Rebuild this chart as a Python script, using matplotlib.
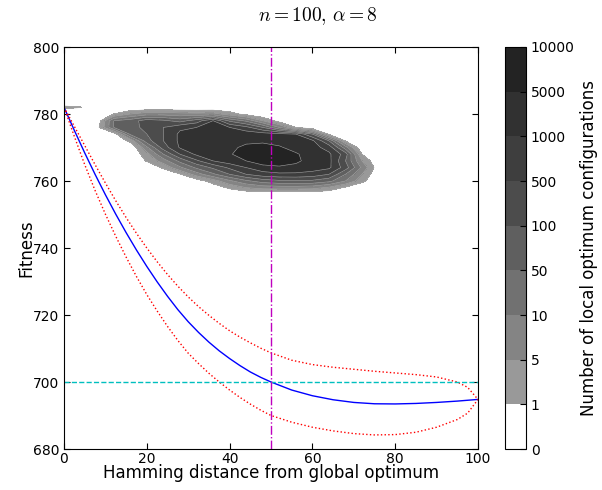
import numpy as np
import matplotlib
matplotlib.use("Agg")
import matplotlib.pyplot as plt

plt.rcParams['mathtext.fontset'] = 'cm'
plt.rcParams['font.family'] = ['DejaVu Sans']

# ---- curves ----
hamming = [0, 2.5, 5, 7.5, 10, 12.5, 15, 17.5, 20, 22.5, 25, 27.5, 30, 32.5, 35, 37.5, 40, 42.5, 45, 47.5,
           50, 55, 60, 65, 70, 75, 80, 85, 90, 95, 97.5, 100]
fitness_mean = [782, 775.1, 768.4, 762.0, 755.9, 750.1, 744.6, 739.4, 734.5, 729.9, 725.6, 721.6, 718.0,
                714.8, 711.9, 709.3, 707.0, 704.9, 703.0, 701.4,
                700.0, 697.6, 695.9, 694.7, 693.9, 693.5, 693.45, 693.6, 693.9, 694.3, 694.55, 694.8]
fitness_upper = [782, 776.3, 770.6, 764.9, 759.4, 754.1, 749.1, 744.4, 740.0, 735.9, 732.1, 728.6, 725.4,
                 722.5, 719.9, 717.5, 715.3, 713.4, 711.7, 710.1,
                 708.7, 706.5, 705.2, 704.4, 703.8, 703.2, 702.7, 702.2, 701.5, 700.0, 698.4, 694.8]
fitness_lower = [782, 773.3, 764.9, 757.2, 750.1, 743.5, 737.3, 731.5, 726.1, 721.2, 716.6, 712.4, 708.6,
                 705.5, 702.6, 700.0, 697.6, 695.4, 693.4, 691.6,
                 690.0, 688.0, 686.5, 685.4, 684.6, 684.2, 684.3, 685.0, 686.5, 688.8, 690.7, 694.8]
fitness_ref = 700
hamming_ref = 50

# ---- local optima histogram (counts) ----
grid_x = list(range(0, 84, 4))            # 0..80
grid_y = list(range(784, 754, -2))        # 784..756 (top row first)
counts_rows = [
    [0]*21,                                                                                    # 784
    [2.0, 1.2] + [0]*19,                                                                       # 782
    [0, 0, 0, 1, 5, 8, 8, 7, 6.5, 7, 3, 0.6] + [0]*9,                                          # 780
    [0, 0, 0.2, 50, 75, 300, 180, 80, 300, 1000, 90, 42, 5, 0.5] + [0]*7,                      # 778
    [0, 0, 0.6, 50, 80, 220, 500, 900, 1000, 1800, 1000, 650, 100, 10, 1] + [0]*6,             # 776
    [0, 0, 0, 0.3, 60, 100, 500, 1800, 3000, 3400, 3400, 3400, 3000, 2200, 1000, 100, 0.8] + [0]*4,  # 774
    [0, 0, 0, 0, 2.2, 80, 500, 1800, 2600, 3400, 3800, 4200, 4200, 3800, 3000, 1800, 100, 0.9, 0, 0, 0],  # 772
    [0, 0, 0, 0, 0, 9, 300, 1400, 2600, 3400, 4200, 6000, 7000, 5500, 3800, 2600, 800, 30, 0, 0, 0],     # 770
    [0, 0, 0, 0, 0, 3.4, 50, 500, 1800, 3000, 4600, 7500, 9000, 8500, 5500, 3400, 1800, 300, 1, 0, 0],   # 768
    [0, 0, 0, 0, 0, 1.4, 7.5, 65, 420, 1000, 3400, 5000, 8000, 8500, 6000, 3400, 2200, 100, 5, 0, 0],    # 766
    [0, 0, 0, 0, 0, 0, 1.8, 9, 60, 180, 600, 1000, 3400, 4200, 3800, 3000, 1800, 300, 9, 0.3, 0],        # 764
    [0, 0, 0, 0, 0, 0, 0, 0.9, 7.5, 42, 100, 500, 800, 900, 900, 800, 500, 50, 5, 0, 0],                 # 762
    [0, 0, 0, 0, 0, 0, 0, 0, 0.4, 3, 9, 42, 75, 90, 95, 90, 65, 10, 2.2, 0, 0],                          # 760
    [0, 0, 0, 0, 0, 0, 0, 0, 0, 0.3, 1.8, 5, 7, 7.5, 7.5, 7, 4.2, 0.8, 0, 0, 0],                         # 758
    [0]*21,                                                                                    # 756
]
count_levels = [0, 1, 5, 10, 50, 100, 500, 1000, 5000, 10000]
count_labels = ['0', '1', '5', '10', '50', '100', '500', '1000', '5000', '10000']
band_colors = ['#ffffff', '#999999', '#848484', '#717171', '#5f5f5f', '#4c4c4c', '#3e3e3e', '#313131', '#232323']

fig = plt.figure(figsize=(6.02, 4.9), dpi=100)
ax = fig.add_axes([64/602, 41/490, 414/602, 402/490])
cax = fig.add_axes([505/602, 41/490, 21/602, 402/490])

counts = np.flipud(np.array(counts_rows, dtype=float))
gy = np.array(grid_y[::-1], dtype=float)
gx = np.array(grid_x, dtype=float)
lev_idx = np.arange(len(count_levels))
vidx = np.interp(counts, count_levels, lev_idx)

cf = ax.contourf(gx, gy, vidx, levels=lev_idx, colors=band_colors)
ax.contour(gx, gy, vidx, levels=lev_idx[1:-1], colors='#aaaaaa', linewidths=0.4)

ax.plot(hamming, fitness_mean, color='b', lw=1)
ax.plot(hamming, fitness_upper, color='r', lw=1, ls=':')
ax.plot(hamming, fitness_lower, color='r', lw=1, ls=':')
ax.axhline(fitness_ref, color=(0, 0.75, 0.75), lw=1, ls='--')
ax.axvline(hamming_ref, color=(0.75, 0, 0.75), lw=1, ls='-.')

ax.set_xlim(0, 100)
ax.set_ylim(680, 800)
ax.set_xticks([0, 20, 40, 60, 80, 100])
ax.set_yticks([680, 700, 720, 740, 760, 780, 800])
ax.tick_params(direction='in', top=True, right=True, length=4, labelsize=10)
ax.tick_params(axis='x', pad=2)
ax.set_xlabel('Hamming distance from global optimum', fontsize=12, labelpad=-1)
ax.set_ylabel('Fitness', fontsize=12, labelpad=-2)
fig.text(318/602, 1 - 16/490, r'$n=100,\,\alpha=8$', fontsize=14, ha='center', va='center')

cb = fig.colorbar(cf, cax=cax, ticks=lev_idx)
cb.ax.set_yticklabels(count_labels)
cb.ax.tick_params(direction='in', length=4, labelsize=10)
cb.set_label('Number of local optimum configurations', fontsize=12)

fig.savefig('out.png', dpi=100)
